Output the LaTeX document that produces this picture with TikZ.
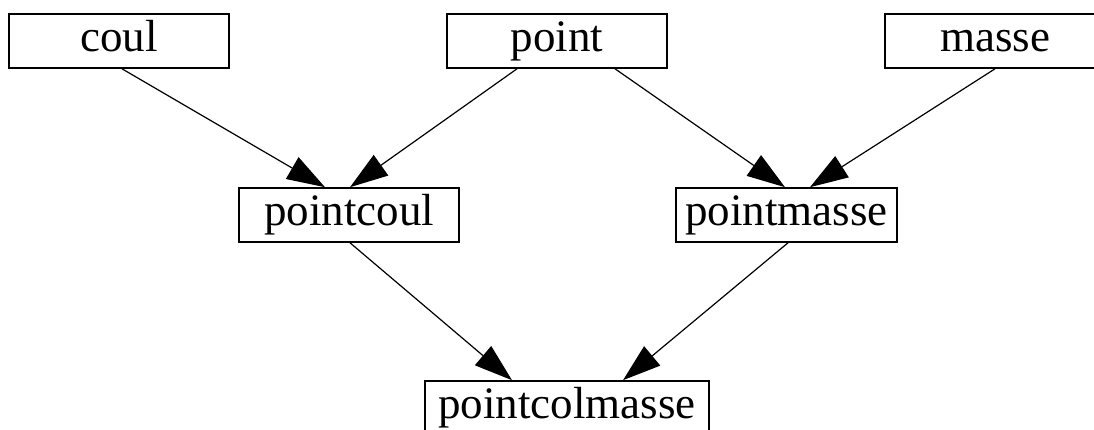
\documentclass[tikz,border=0pt]{standalone}
\usepackage{fontspec}
\setmainfont{Liberation Serif}
\usetikzlibrary{arrows.meta}

\tikzset{
  box/.style={draw=black, line width=1.6pt, rectangle, inner sep=0pt,
    minimum height=54pt, text height=30.7pt, text depth=9.8pt,
    font=\fontsize{45}{54}\selectfont},
  link/.style={draw=black, line width=1.2pt,
    -{Triangle[length=38pt,width=25pt]}}
}

\begin{document}
\begin{tikzpicture}[x=1pt,y=1pt]
  \useasboundingbox (0,0) rectangle (1094,-430);

  % source classes
  \node[box, minimum width=220pt] (coul)  at (119,-41)  {coul};
  \node[box, minimum width=220pt] (point) at (557,-41)  {point};
  \node[box, minimum width=220pt] (masse) at (995,-41)  {masse};

  % intermediate classes
  \node[box, minimum width=220pt] (pointcoul)  at (349,-215)   {pointcoul};
  \node[box, minimum width=221pt] (pointmasse) at (786.5,-215) {pointmasse};

  % combined class
  \node[box, minimum width=284pt] (pointcolmasse) at (567,-408) {pointcolmasse};

  % inheritance links
  \draw[link] ([xshift=3pt]coul.south)   -- ([xshift=-24pt]pointcoul.north);
  \draw[link] ([xshift=-40pt]point.south) -- ([xshift=1pt]pointcoul.north);
  \draw[link] ([xshift=58pt]point.south)  -- ([xshift=-1.5pt]pointmasse.north);
  \draw[link] (masse.south)               -- ([xshift=23.5pt]pointmasse.north);
  \draw[link] ([xshift=1pt]pointcoul.south)    -- ([xshift=-55pt]pointcolmasse.north);
  \draw[link] ([xshift=1.5pt]pointmasse.south) -- ([xshift=56pt]pointcolmasse.north);
\end{tikzpicture}
\end{document}
